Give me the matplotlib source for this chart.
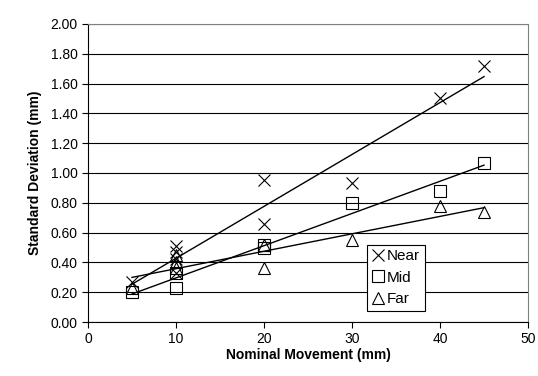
import numpy as np
import matplotlib.pyplot as plt

plt.rcParams['font.family'] = ['Liberation Sans', 'DejaVu Sans']

near_x = [5, 10, 10, 10, 10, 20, 20, 30, 40, 45]
near_y = [0.27, 0.51, 0.47, 0.42, 0.33, 0.95, 0.66, 0.93, 1.50, 1.72]
mid_x = [5, 10, 10, 20, 20, 30, 40, 45]
mid_y = [0.20, 0.33, 0.23, 0.52, 0.50, 0.80, 0.88, 1.07]
far_x = [5, 10, 10, 10, 20, 20, 30, 40, 45]
far_y = [0.23, 0.45, 0.40, 0.36, 0.52, 0.36, 0.55, 0.78, 0.74]

fig = plt.figure(figsize=(5.38, 3.76), dpi=100)
ax = fig.add_axes([0.1636, 0.1436, 0.8178, 0.7926])

series = [('Near', near_x, near_y, 'x'), ('Mid', mid_x, mid_y, 's'), ('Far', far_x, far_y, '^')]
for name, xs, ys, m in series:
    ax.plot(xs, ys, linestyle='none', marker=m, markersize=9, markerfacecolor='none',
            markeredgecolor='black', markeredgewidth=0.8, label=name, zorder=3)
    # linear trend line
    k, b = np.polyfit(xs, ys, 1)
    xx = np.array([min(xs), max(xs)])
    ax.plot(xx, k * xx + b, color='black', lw=1.0, zorder=2)

ax.set_xlim(0, 50)
ax.set_ylim(0, 2.0)
ax.set_xticks(np.arange(0, 51, 10))
ax.set_yticks(np.arange(0, 2.01, 0.2))
ax.set_yticklabels(['%.2f' % v for v in np.arange(0, 2.01, 0.2)])
ax.yaxis.grid(True, color='black', lw=0.8)
ax.set_axisbelow(True)
ax.tick_params(labelsize=10, length=4, width=0.8, color='black')
for s in ['top', 'right']:
    ax.spines[s].set_color('#808080')
    ax.spines[s].set_linewidth(0.8)
for s in ['left', 'bottom']:
    ax.spines[s].set_color('black')
    ax.spines[s].set_linewidth(0.8)

ax.set_xlabel('Nominal Movement (mm)', fontsize=10, fontweight='bold', labelpad=1)
ax.set_ylabel('Standard Deviation (mm)', fontsize=10, fontweight='bold', labelpad=6)

leg = ax.legend(loc='lower left', bbox_to_anchor=(0.634, 0.037), fontsize=11, frameon=True,
                fancybox=False, handlelength=0.8, handletextpad=0.2, borderpad=0.3,
                labelspacing=0.5, borderaxespad=0, framealpha=1)
leg.get_frame().set_edgecolor('black')
leg.get_frame().set_linewidth(0.8)

fig.savefig('out.png', dpi=100)
